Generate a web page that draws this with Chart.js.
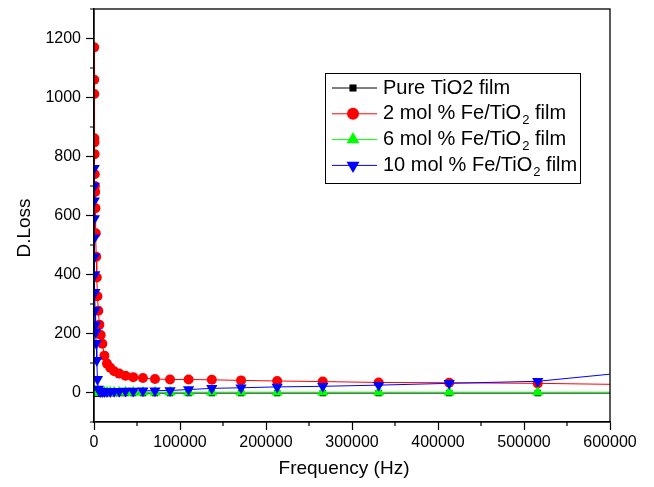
<!DOCTYPE html>
<html>
<head>
<meta charset="utf-8">
<script src="https://cdn.jsdelivr.net/npm/chart.js@4.4.1/dist/chart.umd.min.js"></script>
<style>
  html, body { margin: 0; padding: 0; background: #fff; }
  #wrap { width: 654px; height: 487px; }
</style>
</head>
<body>
<div id="wrap"><canvas id="chart"></canvas></div>
<script>
// Frequences mesurees (Hz)
const frequencies = [228, 285, 355, 442, 552, 688, 858, 1070, 1330, 1660, 2070, 2590, 3230, 4020,
    5020, 6260, 7800, 9730, 12100, 15100, 18900, 23500, 29300, 36600, 45600, 56900, 70900, 88400,
    110000, 137000, 171000, 213000, 266000, 331000, 413000, 516000, 645000];

// Pertes dielectriques par echantillon
const pureTiO2 = [-2, -2, -2, -2, -2, -2, -2, -2, -2, -2, -2, -2, -2, -2,
    -2, -2, -2, -2, -2, -2, -2, -2, -2, -2, -2, -2, -2, -2,
    -2, -2, -2, -2, -2, -2, -2, -2, -2];
const fe2 = [1170, 1060, 1012, 862, 848, 808, 740, 700, 680, 625, 540, 460, 390, 326,
    277, 230, 195, 165, 125, 98, 84, 72, 64, 57, 52, 49, 46, 44,
    44, 43, 41, 39, 37, 34, 33, 31, 26];
const fe6 = [3, 3, 3, 3, 2, 2, 2, 2, 2, 2, 2, 2, 2, 2,
    1, 1, 1, 1, 1, 1, 1, 1, 1, 1, 1, 1, 1, 1,
    1, 1, 1, 1, 1, 1, 1, 1, 1];
const fe10 = [760, 700, 650, 590, 525, 460, 400, 340, 279, 230, 205, 167, 109, 45,
    12, 5, 3, 3, 3, 3, 3, 4, 4, 5, 5, 6, 6, 7,
    10, 14, 16, 19, 21, 25, 31, 38, 75];

const legendItems = [
    { text: 'Pure TiO2 film', sub: null, color: '#000000', style: 'rect', rotation: 0 },
    { text: '2 mol % Fe/TiO', sub: '2', after: ' film', color: '#ff0000', style: 'circle', rotation: 0 },
    { text: '6 mol % Fe/TiO', sub: '2', after: ' film', color: '#00ff00', style: 'triangle', rotation: 0 },
    { text: '10 mol % Fe/TiO', sub: '2', after: ' film', color: '#0000ff', style: 'triangle', rotation: 180 }
];

function toPoints(values) {
    return frequencies.map((f, i) => ({ x: f, y: values[i] }));
}

function markerRadius(style) {
    if (style === 'rect') return 4.5;
    if (style === 'triangle') return 6.5;
    return 5;
}

function makeDataset(label, values, color, style, rotation, order) {
    return {
        label: label,
        data: toPoints(values),
        borderColor: color,
        backgroundColor: color,
        borderWidth: 1,
        pointStyle: style,
        pointRotation: rotation,
        pointRadius: markerRadius(style),
        pointBorderWidth: 0,
        tension: 0,
        clip: 0,
        order: order
    };
}

const FONT = "'Liberation Sans', Arial, sans-serif";

// Cadre, petites graduations, titres et legende
const framePlugin = {
    id: 'frame',
    afterDraw(chart) {
        const ctx = chart.ctx;
        const a = chart.chartArea;
        const xs = chart.scales.x, ys = chart.scales.y;
        ctx.save();
        ctx.strokeStyle = '#000';
        ctx.lineWidth = 1.3;
        ctx.strokeRect(a.left, a.top, a.right - a.left, a.bottom - a.top);

        // graduations mineures
        ctx.lineWidth = 1.2;
        ctx.beginPath();
        for (let v = 50000; v < 600000; v += 100000) {
            const px = xs.getPixelForValue(v);
            ctx.moveTo(px, a.bottom);
            ctx.lineTo(px, a.bottom + 4);
        }
        for (let v = -100; v <= 1300; v += 200) {
            const py = ys.getPixelForValue(v);
            ctx.moveTo(a.left, py);
            ctx.lineTo(a.left - 4, py);
        }
        ctx.stroke();

        // titres des axes
        ctx.fillStyle = '#000';
        ctx.font = '19px ' + FONT;
        ctx.textAlign = 'center';
        ctx.textBaseline = 'middle';
        ctx.fillText('Frequency (Hz)', 344, 469);
        ctx.translate(25, 228);
        ctx.rotate(-Math.PI / 2);
        ctx.fillText('D.Loss', 0, 0);
        ctx.restore();

        // legende
        ctx.save();
        const boxL = 325, boxT = 73, boxR = 580, boxB = 183;
        ctx.fillStyle = '#fff';
        ctx.fillRect(boxL, boxT, boxR - boxL, boxB - boxT);
        ctx.strokeStyle = '#000';
        ctx.lineWidth = 1;
        ctx.strokeRect(boxL + 0.5, boxT + 0.5, boxR - boxL, boxB - boxT);
        legendItems.forEach((item, i) => {
            const cy = 88 + i * 25.8;
            ctx.strokeStyle = item.color;
            ctx.lineWidth = 1;
            ctx.beginPath();
            ctx.moveTo(332, cy);
            ctx.lineTo(377, cy);
            ctx.stroke();
            ctx.fillStyle = item.color;
            Chart.helpers.drawPoint(ctx, {
                pointStyle: item.style,
                radius: item.style === 'rect' ? 5 : (item.style === 'triangle' ? 7.5 : 6),
                rotation: item.rotation,
                borderWidth: 0
            }, 353, cy);
            ctx.fillStyle = '#000';
            ctx.font = '20px ' + FONT;
            ctx.textAlign = 'left';
            ctx.textBaseline = 'middle';
            let x = 383;
            ctx.fillText(item.text, x, cy);
            x += ctx.measureText(item.text).width;
            if (item.sub) {
                ctx.font = '13px ' + FONT;
                ctx.fillText(item.sub, x + 1, cy + 7);
                x += ctx.measureText(item.sub).width + 1;
                ctx.font = '20px ' + FONT;
                ctx.fillText(item.after, x, cy);
            }
        });
        ctx.restore();
    }
};

const ctx = document.getElementById('chart').getContext('2d');
const chart = new Chart(ctx, {
    type: 'line',
    data: {
        datasets: [
            makeDataset('Pure TiO2 film', pureTiO2, '#000000', 'rect', 0, 3),
            makeDataset('2 mol % Fe/TiO2 film', fe2, '#ff0000', 'circle', 0, 2),
            makeDataset('6 mol % Fe/TiO2 film', fe6, '#00ff00', 'triangle', 0, 1),
            makeDataset('10 mol % Fe/TiO2 film', fe10, '#0000ff', 'triangle', 180, 0)
        ]
    },
    options: {
        responsive: true,
        maintainAspectRatio: false,
        animation: false,
        layout: {
            padding: { left: 0, top: 9, right: 44, bottom: 0 }
        },
        plugins: {
            legend: { display: false },
            tooltip: { enabled: false }
        },
        scales: {
            x: {
                type: 'linear',
                min: 0,
                max: 600000,
                afterFit: function(scale) {
                    scale.height = 65;
                    scale.paddingLeft = 0;
                    scale.paddingRight = 0;
                },
                border: { display: true, color: '#000', width: 1.3 },
                grid: {
                    drawOnChartArea: false,
                    tickLength: 8,
                    tickWidth: 1.2,
                    tickColor: '#000'
                },
                ticks: {
                    stepSize: 100000,
                    autoSkip: false,
                    maxRotation: 0,
                    padding: 3,
                    color: '#000',
                    font: { family: FONT, size: 16 },
                    callback: function(value) { return String(value); }
                }
            },
            y: {
                type: 'linear',
                min: -100,
                max: 1300,
                afterFit: function(scale) {
                    scale.width = 94;
                    scale.paddingTop = 0;
                    scale.paddingBottom = 0;
                },
                border: { display: true, color: '#000', width: 1.3 },
                grid: {
                    drawOnChartArea: false,
                    tickLength: 8,
                    tickWidth: 1.2,
                    tickColor: function(context) {
                        const v = context.tick ? context.tick.value : 0;
                        return (v % 200 === 0) ? '#000' : 'rgba(0,0,0,0)';
                    }
                },
                ticks: {
                    stepSize: 100,
                    autoSkip: false,
                    padding: 5,
                    color: '#000',
                    font: { family: FONT, size: 16 },
                    callback: function(value) {
                        return (value % 200 === 0 && value >= 0 && value <= 1200) ? String(value) : '';
                    }
                }
            }
        }
    },
    plugins: [framePlugin]
});
</script>
</body>
</html>
